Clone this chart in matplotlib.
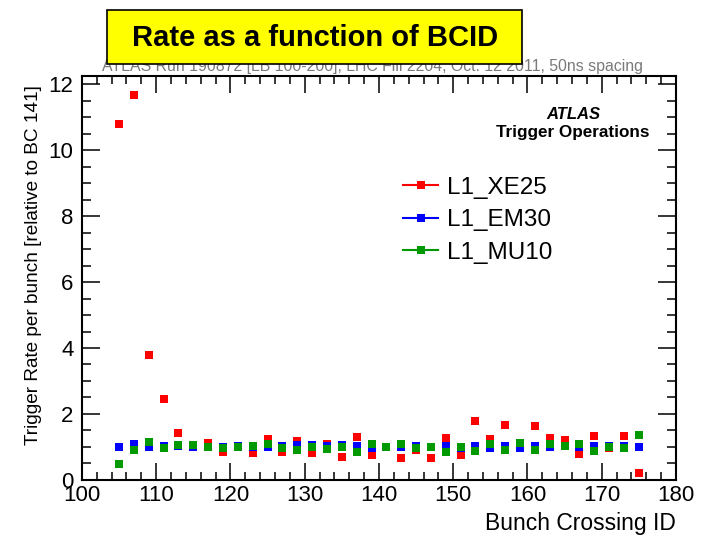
import numpy as np
import matplotlib
matplotlib.use("Agg")
import matplotlib.pyplot as plt
from matplotlib.patches import Rectangle
from matplotlib.ticker import MultipleLocator

plt.rcParams['font.family'] = ['Liberation Sans', 'DejaVu Sans']

# filled bunch crossings (50ns spacing)
bcid = np.arange(105, 176, 2)

# rate per bunch, normalised to BC 141
xe25 = [10.8, 11.67, 3.78, 2.46, 1.43, 1.05, 1.13, 0.86, 1.02, 0.83,
        1.24, 0.85, 1.17, 0.81, 1.10, 0.69, 1.29, 0.76, 1.00, 0.68,
        0.90, 0.66, 1.26, 0.77, 1.80, 1.23, 1.68, 1.00, 1.65, 1.26,
        1.20, 0.80, 1.34, 0.96, 1.34, 0.21]
em30 = [1.01, 1.08, 1.01, 1.04, 1.03, 1.01, 1.00, 1.01, 1.03, 1.00,
        1.00, 1.04, 1.05, 1.05, 1.04, 1.05, 1.03, 0.96, 1.00, 1.00,
        1.03, 1.00, 1.02, 0.96, 1.03, 0.98, 1.03, 0.98, 1.04, 1.00,
        1.02, 0.99, 1.04, 1.03, 1.03, 1.00]
mu10 = [0.47, 0.91, 1.14, 0.97, 1.06, 1.07, 1.00, 0.96, 1.00, 1.03,
        1.08, 0.97, 0.91, 0.99, 0.94, 1.00, 0.86, 1.10, 1.00, 1.09,
        0.96, 1.00, 0.84, 1.01, 0.89, 1.09, 0.92, 1.11, 0.91, 1.10,
        1.04, 1.10, 0.88, 1.01, 0.98, 1.35]

series = [("L1_XE25", xe25, "#ff0000"),
          ("L1_EM30", em30, "#0000ff"),
          ("L1_MU10", mu10, "#009a00")]

fig = plt.figure(figsize=(7.06, 5.46), dpi=100)
ax = fig.add_axes([0.116, 0.121, 0.8415, 0.740])

for name, vals, col in series:
    ax.plot(bcid, vals, linestyle='none', marker='s', markersize=5.6,
            color=col, markeredgewidth=0)

ax.set_xlim(100, 180)
ax.set_ylim(0, 12.25)
ax.xaxis.set_major_locator(MultipleLocator(10))
ax.xaxis.set_minor_locator(MultipleLocator(2))
ax.yaxis.set_major_locator(MultipleLocator(2))
ax.yaxis.set_minor_locator(MultipleLocator(0.5))
ax.tick_params(which='both', direction='in', top=True, right=True,
               labelsize=16, width=1.1)
ax.tick_params(axis='x', which='major', length=12, pad=4)
ax.tick_params(axis='x', which='minor', length=6)
ax.tick_params(axis='y', which='major', length=13, pad=6)
ax.tick_params(axis='y', which='minor', length=6.5)
for sp in ax.spines.values():
    sp.set_linewidth(1.5)

# legend: line + square marker
handles = [plt.Line2D([], [], color=col, marker='s', markersize=5.6, lw=1.5,
                      markeredgewidth=0) for _, _, col in series]
ax.legend(handles, [s[0] for s in series], loc='upper left',
          bbox_to_anchor=(0.52, 0.78), frameon=False, fontsize=17.5,
          handlelength=1.45, handletextpad=0.35, labelspacing=0.43,
          borderpad=0)

ax.text(0.827, 0.893, "ATLAS", transform=ax.transAxes, ha='center',
        fontsize=12, fontweight='bold', fontstyle='italic')
ax.text(0.827, 0.848, "Trigger Operations", transform=ax.transAxes,
        ha='center', fontsize=12.3, fontweight='bold')

fig.text(0.047, 0.845, "Trigger Rate per bunch [relative to BC 141]",
         rotation=90, ha='center', va='top', fontsize=13.7)
fig.text(0.9575, 0.02, "Bunch Crossing ID", ha='right', va='bottom',
         fontsize=16.5)

fig.text(0.527, 0.879, "ATLAS Run 190872 [LB 100-200], LHC Fill 2204, "
         "Oct. 12 2011, 50ns spacing", ha='center', va='center',
         fontsize=11.4, color='#7a7a7a')

# yellow title box
box = Rectangle((107 / 706, 1 - 64 / 546), 415 / 706, 54 / 546,
                transform=fig.transFigure, facecolor='#ffff00',
                edgecolor='black', lw=1.2, zorder=5)
fig.patches.append(box)
fig.text(315 / 706, 1 - 38 / 546, "Rate as a function of BCID",
         ha='center', va='center', fontsize=21, fontweight='bold',
         zorder=6)

fig.savefig("out.png", dpi=100)
